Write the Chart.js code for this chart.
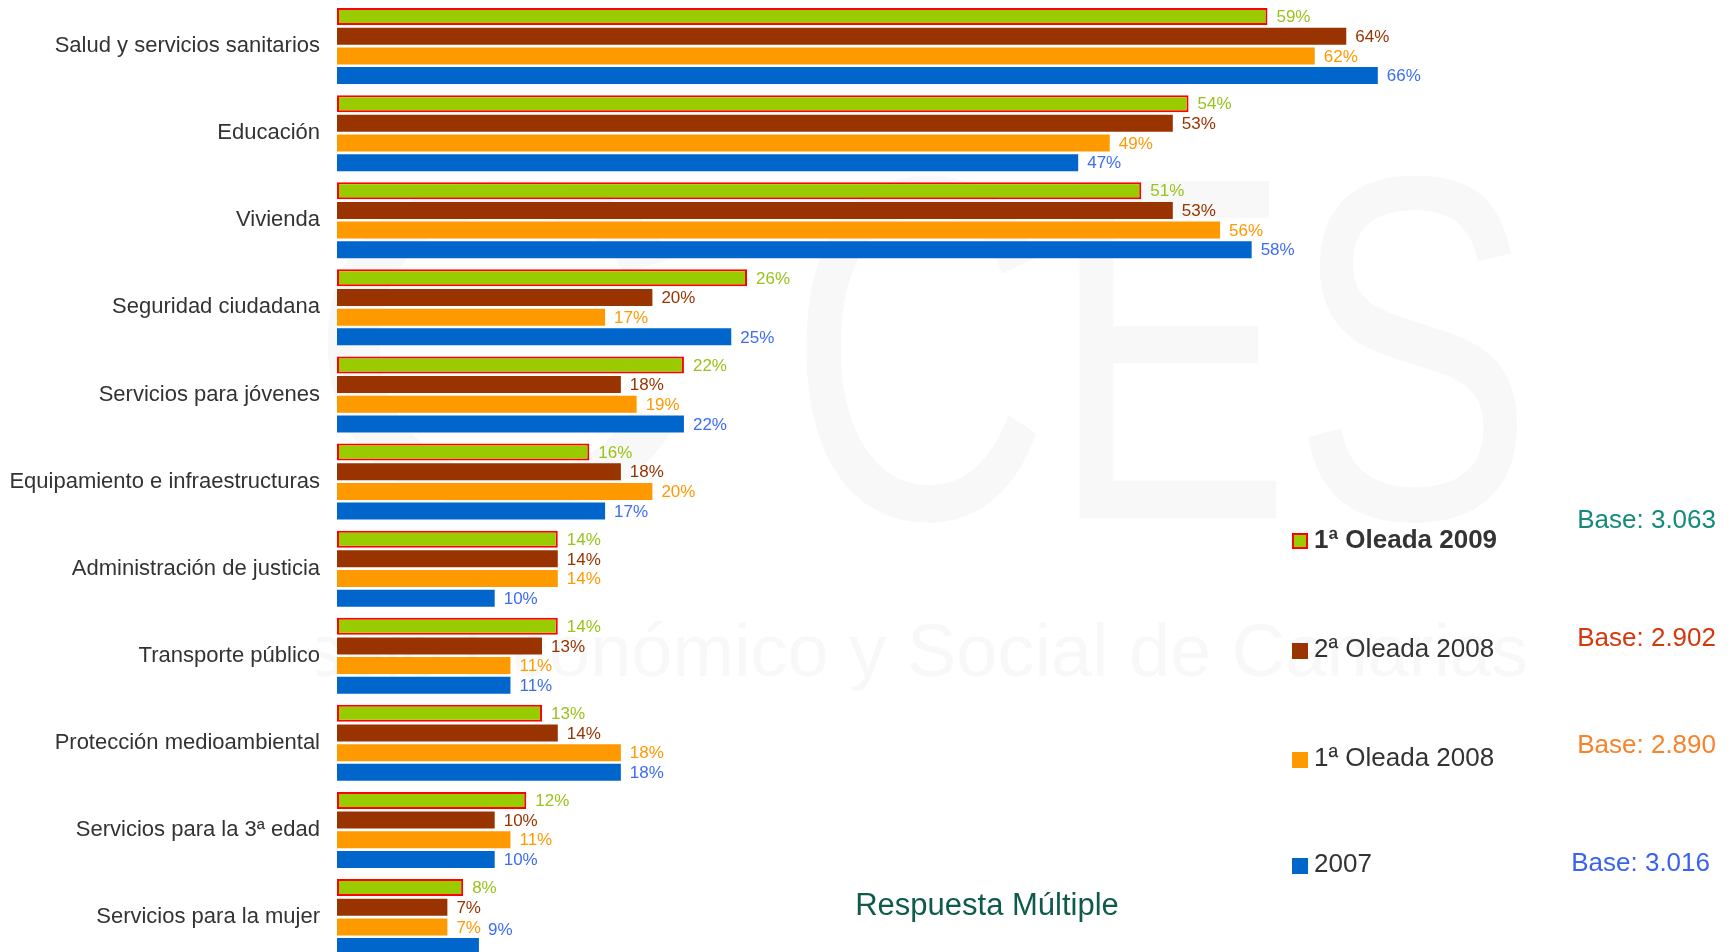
<!DOCTYPE html>
<html lang="es">
<head>
<meta charset="UTF-8">
<title>Servicios públicos - Respuesta Múltiple</title>
<style>
  html, body { margin: 0; padding: 0; background: #fff; overflow: hidden; }
  #wrap { width: 1728px; height: 952px; overflow: hidden; position: relative; }
</style>
</head>
<body>
<div id="wrap">
  <canvas id="myChart" width="1728" height="962"></canvas>
</div>

<script src="https://cdn.jsdelivr.net/npm/chart.js"></script>
<script>
// categories (top to bottom)
const categories = [
  'Salud y servicios sanitarios',
  'Educación',
  'Vivienda',
  'Seguridad ciudadana',
  'Servicios para jóvenes',
  'Equipamiento e infraestructuras',
  'Administración de justicia',
  'Transporte público',
  'Protección medioambiental',
  'Servicios para la 3ª edad',
  'Servicios para la mujer'
];

// series values (%)
const oleada1_2009 = [59, 54, 51, 26, 22, 16, 14, 14, 13, 12, 8];
const oleada2_2008 = [64, 53, 53, 20, 18, 18, 14, 13, 14, 10, 7];
const oleada1_2008 = [62, 49, 56, 17, 19, 20, 14, 11, 18, 11, 7];
const serie2007    = [66, 47, 58, 25, 22, 17, 10, 11, 18, 10, 9];

const seriesNames = ['1ª Oleada 2009', '2ª Oleada 2008', '1ª Oleada 2008', '2007'];
const bases = ['Base: 3.063', 'Base: 2.902', 'Base: 2.890', 'Base: 3.016'];

const barColors   = ['#99cc00', '#993300', '#ff9900', '#0066cc'];
const labelColors = ['#99c31a', '#993300', '#ff9900', '#3d6cf5'];
const baseColors  = ['#138a7c', '#d4380d', '#f7832b', '#3a62f0'];

const FONT = '"Liberation Sans", Arial, sans-serif';

// faint watermark, drawn first so it sits under labels and bars
const watermark = {
  id: 'watermark',
  beforeDraw(chart) {
    const ctx = chart.ctx;
    ctx.save();
    ctx.beginPath();
    ctx.rect(317, 0, 1728, 962);
    ctx.clip();
    ctx.fillStyle = '#f8f8f8';
    ctx.textBaseline = 'alphabetic';
    ctx.save();
    ctx.translate(788, 518);
    ctx.scale(0.74, 1);
    ctx.font = '490px ' + FONT;
    ctx.fillText('CES', 0, 0);
    ctx.restore();
    ctx.save();
    ctx.translate(300, 505);
    ctx.scale(1.12, 0.95);
    ctx.font = '490px ' + FONT;
    ctx.fillText('C', 0, 0);
    ctx.restore();
    ctx.font = '74px ' + FONT;
    ctx.textAlign = 'right';
    ctx.fillText('Consejo Económico y Social de Canarias', 1528, 676);
    ctx.restore();
  }
};

// value labels at bar ends + side legend + notes
const extras = {
  id: 'extras',
  afterDatasetsDraw(chart) {
    const ctx = chart.ctx;
    ctx.save();
    ctx.font = '17px ' + FONT;
    ctx.textAlign = 'left';
    ctx.textBaseline = 'middle';
    chart.data.datasets.forEach((ds, i) => {
      const meta = chart.getDatasetMeta(i);
      meta.data.forEach((bar, j) => {
        ctx.fillStyle = labelColors[i];
        let y = Math.min(bar.y + 1, 930);
        ctx.fillText(ds.data[j] + '%', bar.x + 9, y);
      });
    });

    // legend
    const baselines = [548, 657, 766, 872];
    ctx.textBaseline = 'alphabetic';
    seriesNames.forEach((name, i) => {
      const y = baselines[i];
      if (i === 0) {
        ctx.fillStyle = '#ff0000';
        ctx.fillRect(1292, y - 15, 16, 16);
        ctx.fillStyle = barColors[0];
        ctx.fillRect(1294, y - 13, 12, 12);
        ctx.font = 'bold 26px ' + FONT;
      } else {
        ctx.fillStyle = barColors[i];
        ctx.fillRect(1292, y - 14, 16, 16);
        ctx.font = '26px ' + FONT;
      }
      ctx.fillStyle = '#333333';
      ctx.fillText(name, 1314, y);
    });

    // bases
    const baseY = [528, 646, 753, 871];
    const baseX = [1716, 1716, 1716, 1710];
    ctx.font = '26px ' + FONT;
    ctx.textAlign = 'right';
    bases.forEach((b, i) => {
      ctx.fillStyle = baseColors[i];
      ctx.fillText(b, baseX[i], baseY[i]);
    });

    ctx.textAlign = 'center';
    ctx.font = '31px ' + FONT;
    ctx.fillStyle = '#0f5b4b';
    ctx.fillText('Respuesta Múltiple', 987, 915);
    ctx.restore();
  }
};

const datasets = [oleada1_2009, oleada2_2008, oleada1_2008, serie2007].map((vals, i) => ({
  label: seriesNames[i],
  data: vals,
  backgroundColor: barColors[i],
  borderColor: i === 0 ? '#ff0000' : barColors[i],
  borderWidth: i === 0 ? 2 : 0,
  borderSkipped: false,
  categoryPercentage: 0.903,
  barPercentage: 0.864
}));

const ctx = document.getElementById('myChart').getContext('2d');
const myChart = new Chart(ctx, {
  type: 'bar',
  data: { labels: categories, datasets: datasets },
  options: {
    indexAxis: 'y',
    responsive: false,
    animation: false,
    layout: { padding: { top: 2.5, bottom: 1.4, left: 0, right: 0 } },
    scales: {
      x: {
        display: false,
        min: 0,
        max: (1728 - 337) / 15.77
      },
      y: {
        grid: { display: false, drawTicks: false },
        border: { display: false },
        ticks: {
          color: '#333333',
          padding: 17,
          font: { family: FONT, size: 22 }
        },
        afterFit(scale) {
          scale.width = 337;
          scale.paddingTop = 0;
          scale.paddingBottom = 0;
        }
      }
    },
    plugins: {
      legend: { display: false },
      tooltip: { enabled: false }
    }
  },
  plugins: [watermark, extras]
});
</script>
</body>
</html>
